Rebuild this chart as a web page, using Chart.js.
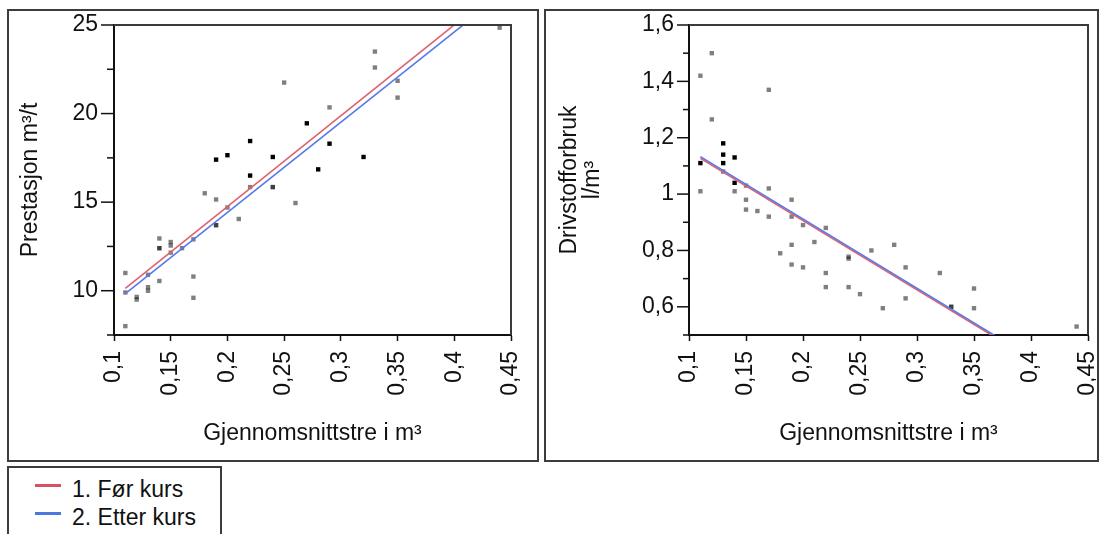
<!DOCTYPE html>
<html>
<head>
<meta charset="utf-8">
<script src="https://cdn.jsdelivr.net/npm/chart.js@4.4.1/dist/chart.umd.min.js"></script>
<style>
html,body{margin:0;padding:0;background:#fff;width:1104px;height:534px;overflow:hidden;font-family:"Liberation Sans",Arial,sans-serif;}
.frame{position:absolute;border:2px solid #3c3c3c;box-sizing:border-box;}
#f1{left:7px;top:9px;width:532px;height:453px;}
#f2{left:544px;top:9px;width:555px;height:453px;}
canvas{position:absolute;}
#c1{left:9px;top:11px;}
#c2{left:546px;top:11px;}
#legend{position:absolute;left:7px;top:466px;width:215px;height:90px;border:2px solid #3c3c3c;box-sizing:border-box;}
.sw{position:absolute;left:26px;width:26px;height:3px;}
.lt{position:absolute;left:63px;font-size:23px;line-height:28px;color:#111;white-space:nowrap;}
</style>
</head>
<body>
<div class="frame" id="f1"></div>
<div class="frame" id="f2"></div>
<canvas id="c1" width="528" height="448"></canvas>
<canvas id="c2" width="550" height="448"></canvas>
<div id="legend">
  <div class="sw" id="sw1" style="top:16px;"></div><div class="lt" style="top:7px;">1. Før kurs</div>
  <div class="sw" id="sw2" style="top:44px;"></div><div class="lt" style="top:35px;">2. Etter kurs</div>
</div>
<script>
// ---- data ----
const seriesNames = ['1. Før kurs', '2. Etter kurs'];
const xTitle = 'Gjennomsnittstre i m³';
const leftYTitle = 'Prestasjon m³/t';
const rightYTitle = ['Drivstofforbruk', 'l/m³'];

// Prestasjon (m³/t) vs gjennomsnittstre
const leftBlack = [[0.19,17.4],[0.20,17.65],[0.22,18.45],[0.24,17.55],[0.22,16.5],[0.27,19.45],[0.28,16.85],[0.29,18.3],[0.32,17.55]];
const leftGray = [[0.25,21.75],[0.33,23.5],[0.33,22.6],[0.35,21.85],[0.35,20.9],[0.29,20.35],[0.44,24.85],
  [0.24,15.85],[0.24,15.85],[0.22,15.85],[0.18,15.5],[0.19,15.15],[0.26,14.95],[0.20,14.7],[0.21,14.05],
  [0.19,13.7],[0.19,13.7],[0.14,12.95],[0.14,12.4],[0.14,12.4],[0.15,12.75],[0.15,12.55],[0.16,12.4],
  [0.17,12.9],[0.15,12.15],[0.11,11.0],[0.13,10.9],[0.14,10.55],[0.17,10.8],[0.13,10.2],[0.13,10.0],
  [0.11,9.9],[0.12,9.65],[0.12,9.5],[0.17,9.6],[0.11,8.0]];
const leftRedLine = [[0.11,10.13],[0.45,27.57]];
const leftBlueLine = [[0.11,9.84],[0.45,27.15]];

// Drivstofforbruk (l/m³) vs gjennomsnittstre
const rightBlack = [[0.11,1.11],[0.13,1.18],[0.13,1.14],[0.13,1.11],[0.14,1.13],[0.14,1.04]];
const rightGray = [[0.12,1.50],[0.11,1.42],[0.17,1.37],[0.12,1.265],[0.13,1.08],[0.11,1.01],[0.17,1.02],
  [0.15,1.03],[0.14,1.01],[0.15,0.98],[0.19,0.98],[0.15,0.945],[0.16,0.94],[0.17,0.92],[0.19,0.92],
  [0.20,0.89],[0.22,0.88],[0.21,0.83],[0.19,0.82],[0.18,0.79],[0.26,0.80],[0.28,0.82],[0.24,0.778],
  [0.24,0.771],[0.19,0.75],[0.20,0.74],[0.22,0.72],[0.22,0.67],[0.24,0.67],[0.25,0.645],[0.27,0.595],
  [0.29,0.74],[0.32,0.72],[0.29,0.63],[0.35,0.665],[0.35,0.595],[0.44,0.53],[0.33,0.60],[0.33,0.60]];
const rightRedLine = [[0.11,1.127],[0.45,0.292]];
const rightBlueLine = [[0.11,1.133],[0.45,0.297]];

const xRange = [0.1, 0.45, 0.05];
const leftYRange = [7.5, 25, 2.5, 5];
const rightYRange = [0.5, 1.6, 0.1, 0.2];

const RED = 'rgb(224,96,110)';
const BLUE = 'rgb(84,122,234)';
document.getElementById('sw1').style.background = 'rgb(217,80,94)';
document.getElementById('sw2').style.background = 'rgb(74,120,224)';

// ---- chart ----
Chart.defaults.font.family = '"Liberation Sans", Arial, sans-serif';
Chart.defaults.font.size = 23;
Chart.defaults.color = '#111';

const toXY = arr => arr.map(p => ({x: p[0], y: p[1]}));
const fmt = v => String(Math.round(v * 1000) / 1000).replace('.', ',');
const isMajor = (v, step) => { const q = v / step; return Math.abs(q - Math.round(q)) < 1e-6; };

const axisTicks = {
  id: 'axisTicks',
  afterDraw(chart, args, o) {
    const {ctx, chartArea: ca} = chart;
    const y = chart.scales.y;
    ctx.save();
    ctx.strokeStyle = '#111';
    ctx.lineWidth = 1.5;
    y.ticks.forEach(t => {
      const len = isMajor(t.value, o.majorStep) ? o.majorLen : o.minorLen;
      const py = y.getPixelForValue(t.value);
      ctx.beginPath(); ctx.moveTo(ca.left - len, py); ctx.lineTo(ca.left, py); ctx.stroke();
    });
    ctx.strokeStyle = '#3a3a3a';
    ctx.lineWidth = 2;
    ctx.beginPath();
    ctx.moveTo(ca.left, ca.top); ctx.lineTo(ca.right, ca.top); ctx.lineTo(ca.right, ca.bottom);
    ctx.stroke();
    ctx.restore();
  }
};

function build(id, c) {
  return new Chart(document.getElementById(id), {
    type: 'scatter',
    data: {datasets: [
      {label: seriesNames[1], data: toXY(c.blue), showLine: true, borderColor: BLUE, borderWidth: 1.6, pointRadius: 0},
      {label: seriesNames[0], data: toXY(c.red), showLine: true, borderColor: RED, borderWidth: 1.6, pointRadius: 0},
      {label: 'a', data: toXY(c.black), pointStyle: 'rect', pointRadius: 3.1, backgroundColor: '#000', borderWidth: 0},
      {label: 'b', data: toXY(c.gray), pointStyle: 'rect', pointRadius: 3.1, backgroundColor: 'rgba(0,0,0,0.5)', borderWidth: 0}
    ]},
    options: {
      responsive: false, animation: false, events: [],
      layout: {padding: {top: 14, right: c.padRight, bottom: 0, left: 0}},
      plugins: {legend: {display: false}, tooltip: {enabled: false},
        axisTicks: {majorStep: c.yr[3], majorLen: c.majorLen, minorLen: c.minorLen}},
      scales: {
        x: {type: 'linear', position: 'bottom', min: xRange[0], max: xRange[1],
          ticks: {stepSize: xRange[2], minRotation: 90, maxRotation: 90, autoSkip: false, padding: 10, callback: v => fmt(v), color: '#111'},
          grid: {drawOnChartArea: false, tickLength: 6, tickColor: '#111', tickWidth: 1.5},
          border: {color: '#111', width: 2},
          title: {display: true, text: xTitle, color: '#111', padding: {top: 0, bottom: 11.5}},
          afterFit(s) { s.height = 124; s.paddingLeft = 0; s.paddingRight = 0; }
        },
        y: {type: 'linear', min: c.yr[0], max: c.yr[1],
          ticks: {stepSize: c.yr[2], autoSkip: false, padding: c.yPad, color: '#111',
            callback: v => isMajor(v, c.yr[3]) ? fmt(v) : ''},
          grid: {drawOnChartArea: false, drawTicks: false},
          border: {color: '#111', width: 2},
          title: {display: true, text: c.yTitle, color: '#111', font: {size: 23, lineHeight: c.titleLH}, padding: {top: c.titlePad, bottom: 0}},
          afterFit(s) { s.width = c.yWidth; s.paddingTop = 0; s.paddingBottom = 0; }
        }
      }
    },
    plugins: [axisTicks]
  });
}

build('c1', {blue: leftBlueLine, red: leftRedLine, black: leftBlack, gray: leftGray, yr: leftYRange,
  padRight: 26, yWidth: 105, yPad: 16, majorLen: 13, minorLen: 7, yTitle: leftYTitle, titleLH: 1.2, titlePad: 8});
build('c2', {blue: rightBlueLine, red: rightRedLine, black: rightBlack, gray: rightGray, yr: rightYRange,
  padRight: 8, yWidth: 143, yPad: 15, majorLen: 12, minorLen: 6, yTitle: rightYTitle, titleLH: 0.98, titlePad: 12.7});
</script>
</body>
</html>
